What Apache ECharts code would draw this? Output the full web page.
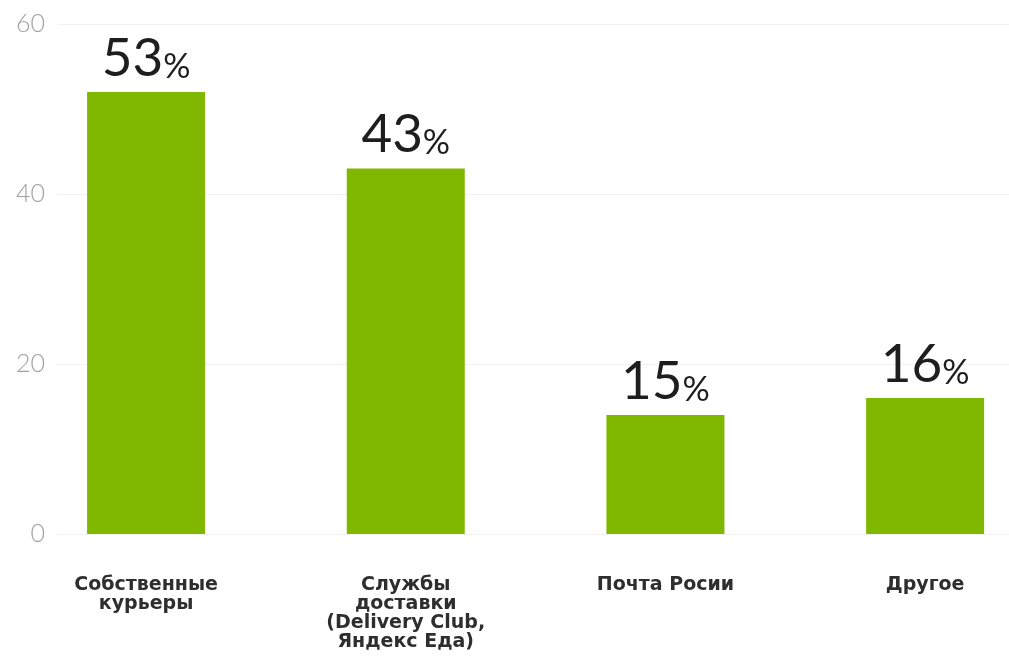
<!DOCTYPE html>
<html>
<head>
<meta charset="utf-8">
<script src="https://cdn.jsdelivr.net/npm/echarts@6/dist/echarts.min.js"></script>
<style>
    html, body { margin: 0; padding: 0; background: #fff; }
    #chart { width: 1009px; height: 658px; }
</style>
</head>
<body>
<div id="chart"></div>
<script>
var categories = ['Собственные\nкурьеры', 'Службы\nдоставки\n(Delivery Club,\nЯндекс Еда)', 'Почта Росии', 'Другое'];
var values = [52, 43, 14, 16];      // bar heights as drawn
var labels = [53, 43, 15, 16];      // printed percentages
var yTicks = [0, 20, 40, 60];

var chart = echarts.init(document.getElementById('chart'));

var option = {
    animation: false,
    backgroundColor: '#fff',
    grid: {
        top: 24,
        bottom: 124,
        left: 57,
        right: 0
    },
    xAxis: {
        type: 'value',
        min: -0.343,
        max: 3.323,
        axisLine: { show: false },
        axisTick: { show: false },
        splitLine: { show: false },
        axisLabel: {
            customValues: [0, 1, 2, 3],
            formatter: function (v) { return categories[Math.round(v)]; },
            margin: 42,
            color: '#2e2e2e',
            fontFamily: 'DejaVu Sans',
            fontWeight: 'bold',
            fontSize: 19,
            lineHeight: 19,
            align: 'center',
            verticalAlign: 'top'
        }
    },
    yAxis: {
        type: 'value',
        min: yTicks[0],
        max: yTicks[yTicks.length - 1],
        interval: 20,
        axisLine: { show: false },
        axisTick: { show: false },
        splitLine: {
            lineStyle: { color: '#f1f1f1', width: 1 }
        },
        axisLabel: {
            margin: 12,
            color: '#a0a0a0',
            fontFamily: 'Lato',
            fontWeight: 300,
            fontSize: 25
        }
    },
    series: [{
        type: 'bar',
        barWidth: 118,
        itemStyle: { color: '#80b800' },
        data: values.map(function (v, i) { return [i, v]; }),
        label: {
            show: true,
            position: 'top',
            distance: 7,
            formatter: function (p) { return '{n|' + labels[p.dataIndex] + '}{p|%}'; },
            rich: {
                n: {
                    fontFamily: 'Lato',
                    fontSize: 53,
                    color: '#1e1e1e',
                    verticalAlign: 'bottom'
                },
                p: {
                    fontFamily: 'Lato',
                    fontSize: 34,
                    color: '#1e1e1e',
                    verticalAlign: 'bottom',
                    padding: [0, 0, 1, 0]
                }
            }
        }
    }]
};
chart.setOption(option);
</script>
</body>
</html>
